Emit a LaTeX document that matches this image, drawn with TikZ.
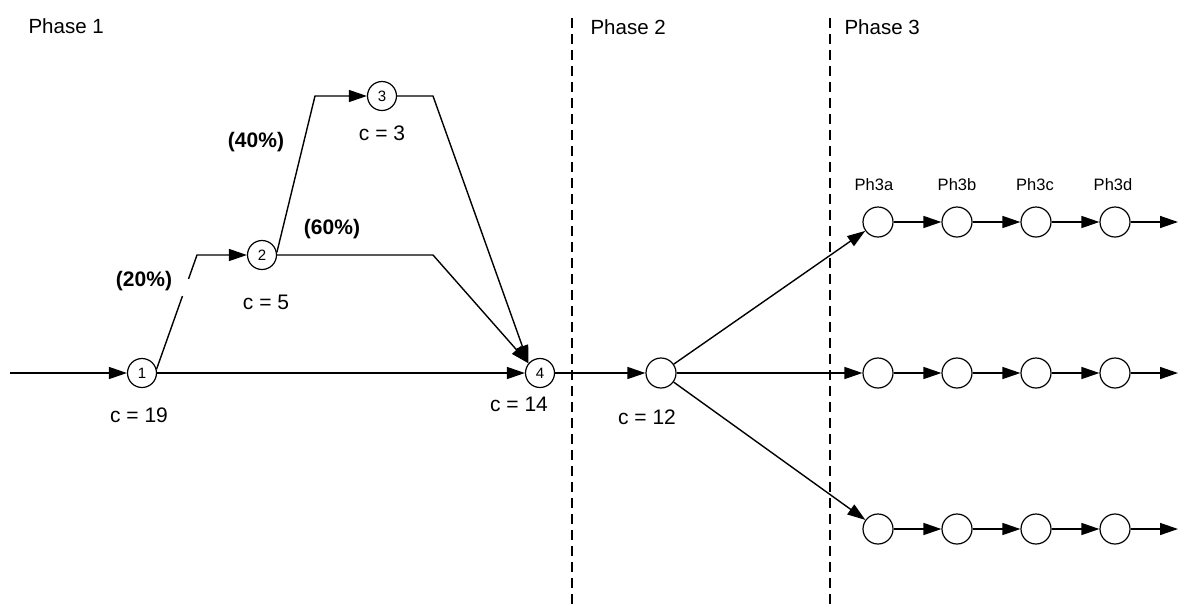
\documentclass[tikz,border=0pt]{standalone}
\usepackage{fontspec}
\setmainfont{Liberation Sans}
\usetikzlibrary{arrows.meta,calc}
\begin{document}
\begin{tikzpicture}[x=1pt,y=-1pt,
  conn/.style={line width=1.4pt,draw=black},
  arr/.style={conn,-{Triangle[length=18pt,width=12pt]}},
  numnode/.style={circle,draw,line width=1.2pt,minimum size=29pt,inner sep=0pt,font=\fontsize{15}{15}\selectfont},
  emptynode/.style={circle,draw,line width=1.2pt,minimum size=30pt,inner sep=0pt},
  phaselabel/.style={anchor=west,font=\fontsize{20.5}{22}\selectfont},
  costlabel/.style={font=\fontsize{21}{22}\selectfont},
  pctlabel/.style={font=\bfseries\fontsize{21}{22}\selectfont},
  steplabel/.style={font=\fontsize{16.5}{18}\selectfont},
  phaseline/.style={line width=1.3pt,dash pattern=on 10pt off 6pt}
]
\useasboundingbox (0,0) rectangle (1180,606);

% phase boundaries and titles
\draw[phaseline] (572,18) -- (572,606);
\draw[phaseline] (830,18) -- (830,606);
\node[phaselabel] (ph1) at (25,26) {Phase 1};
\node[phaselabel] (ph2) at (587,27) {Phase 2};
\node[phaselabel] (ph3) at (841,27) {Phase 3};

% phase 1 network
\node[numnode] (n1) at (142,373) {1};
\node[numnode] (n2) at (262,255) {2};
\node[numnode] (n3) at (382,96) {3};
\node[numnode] (n4) at (540,373) {4};
\coordinate (in) at (10,373);
\coordinate (c12) at (197,255);
\coordinate (c23) at (315,96);
\coordinate (c24) at (433,255);
\coordinate (c34) at (433,96);

\draw[arr] (in) -- (n1);
\draw[conn] (n1.15) -- ($(n1.15)!0.64!(c12)$);
\draw[arr] ($(n1.15)!0.79!(c12)$) -- (c12) -- (n2);
\draw[arr] (n2.10) -- (c23) -- (n3);
\draw[arr] (n2.east) -- (c24) -- (n4.140);
\draw[arr] (n3.east) -- (c34) -- (n4.140);
\draw[arr] (n1) -- (n4);

\node[pctlabel] (p20) at (144,281) {(20\%)};
\node[pctlabel] (p40) at (256,142) {(40\%)};
\node[pctlabel] (p60) at (332,229) {(60\%)};
\node[costlabel] (k1) at (139,415) {c = 19};
\node[costlabel] (k2) at (266,302) {c = 5};
\node[costlabel] (k3) at (382,133) {c = 3};
\node[costlabel] (k4) at (519,404) {c = 14};

% phase 2
\node[emptynode] (m) at (661,373) {};
\node[costlabel] (k5) at (647,417) {c = 12};
\draw[arr] (n4) -- (m);

% phase 3 rows
\foreach \r/\y in {1/222,2/373,3/529}{
  \node[emptynode] (r\r c1) at (878,\y) {};
  \node[emptynode] (r\r c2) at (957,\y) {};
  \node[emptynode] (r\r c3) at (1036,\y) {};
  \node[emptynode] (r\r c4) at (1115,\y) {};
  \coordinate (r\r out) at (1178,\y);
  \draw[arr] (m) -- (r\r c1);
  \draw[arr] (r\r c1) -- (r\r c2);
  \draw[arr] (r\r c2) -- (r\r c3);
  \draw[arr] (r\r c3) -- (r\r c4);
  \draw[arr] (r\r c4) -- (r\r out);
}
\node[steplabel] (la) at (874,185) {Ph3a};
\node[steplabel] (lb) at (957,185) {Ph3b};
\node[steplabel] (lc) at (1035,185) {Ph3c};
\node[steplabel] (ld) at (1113,185) {Ph3d};
\end{tikzpicture}
\end{document}
